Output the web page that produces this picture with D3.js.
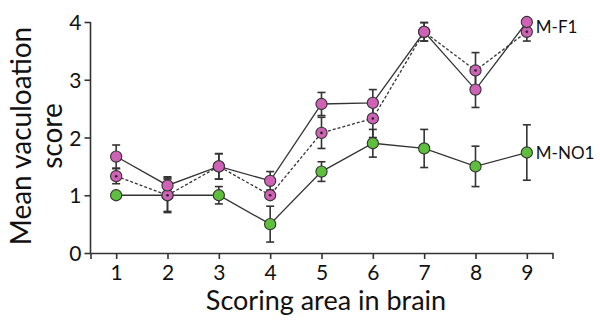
<!DOCTYPE html>
<html>
<head>
<meta charset="utf-8">
<script src="https://cdn.jsdelivr.net/npm/d3@7"></script>
<style>
  html, body { margin: 0; padding: 0; background: #fff; }
  svg text { font-family: Lato, "Open Sans", sans-serif; fill: #111; }
</style>
</head>
<body>
<svg id="chart" width="600" height="323"></svg>
<script>
// ── data ──────────────────────────────────────────────
const areas = [1, 2, 3, 4, 5, 6, 7, 8, 9];
const yTicks = [0, 1, 2, 3, 4];

// M-F1, solid line, plain markers
const mf1a = [1.67, 1.17, 1.5, 1.25, 2.58, 2.6, 3.83, 2.83, 4.0];
const mf1aErr = [0.2, 0.15, 0.22, 0.16, 0.2, 0.23, 0.16, 0.31, 0.0];
// M-F1, dashed line, dotted markers
const mf1b = [1.33, 1.0, 1.5, 1.0, 2.08, 2.33, 3.83, 3.16, 3.83];
const mf1bErr = [0.13, 0.3, 0.22, 0.0, 0.27, 0.33, 0.16, 0.31, 0.16];
// M-NO1
const mno1 = [1.0, 1.0, 1.0, 0.5, 1.41, 1.9, 1.81, 1.5, 1.74];
const mno1Err = [0.0, 0.28, 0.15, 0.31, 0.17, 0.24, 0.33, 0.35, 0.48];

const series = [
  { name: 'M-NO1', vals: mno1, err: mno1Err, fill: '#5ebf3c', dash: null, dot: false },
  { name: 'M-F1b', vals: mf1b, err: mf1bErr, fill: '#cf62b5', dash: '3,2', dot: true },
  { name: 'M-F1', vals: mf1a, err: mf1aErr, fill: '#cf62b5', dash: null, dot: false }
];

// ── chart ─────────────────────────────────────────────
const svg = d3.select('#chart');
const ink = '#333';

const x = d3.scaleLinear().domain([0.5, 9.5]).range([90.5, 552.5]);
const y = d3.scaleLinear().domain([0, 4]).range([253, 22]);

// axes
const gx = svg.append('g').attr('transform', 'translate(0,253)')
  .call(d3.axisBottom(x).tickValues(areas).tickSize(6).tickPadding(4).tickFormat(d3.format('d')));
const gy = svg.append('g').attr('transform', 'translate(90.5,0)')
  .call(d3.axisLeft(y).tickValues(yTicks).tickSize(6).tickPadding(3).tickFormat(d3.format('d')));
gy.select('.domain').attr('d', `M0,${y(4)}V${y(0)}`);
[gx, gy].forEach(g => {
  g.select('.domain').attr('stroke', ink).attr('stroke-width', 1.6);
  g.selectAll('.tick line').attr('stroke', ink).attr('stroke-width', 1.6);
  g.selectAll('.tick text').style('font-size', '21px').attr('fill', '#111');
});
gx.selectAll('.tick text').attr('dy', '0.8em');
gy.selectAll('.tick text').attr('dy', '0.36em');

// axis titles
svg.append('text').attr('x', 326).attr('y', 310).attr('text-anchor', 'middle')
  .style('font-size', '27px').text('Scoring area in brain');
const yt = svg.append('text').attr('transform', 'translate(0,136) rotate(-90)')
  .attr('text-anchor', 'middle').style('font-size', '28px');
yt.append('tspan').attr('x', 0).attr('y', 31).text('Mean vaculoation');
yt.append('tspan').attr('x', 0).attr('y', 62).text('score');

const line = d3.line().x((d, i) => x(areas[i])).y(d => y(d));

// lines
series.forEach(s => {
  svg.append('path').attr('d', line(s.vals))
    .attr('fill', 'none').attr('stroke', ink).attr('stroke-width', 1.3)
    .attr('stroke-dasharray', s.dash);
});

// error bars
series.forEach(s => {
  const g = svg.append('g').attr('stroke', ink).attr('stroke-width', 1.6);
  s.vals.forEach((v, i) => {
    if (!s.err[i]) return;
    const cx = x(areas[i]);
    const t = y(v + s.err[i]), b = y(v - s.err[i]);
    g.append('line').attr('x1', cx).attr('x2', cx).attr('y1', t).attr('y2', b);
    g.append('line').attr('x1', cx - 4).attr('x2', cx + 4).attr('y1', t).attr('y2', t);
    g.append('line').attr('x1', cx - 4).attr('x2', cx + 4).attr('y1', b).attr('y2', b);
  });
});

// markers
series.forEach(s => {
  const g = svg.append('g');
  g.selectAll('circle').data(s.vals).enter().append('circle')
    .attr('cx', (d, i) => x(areas[i])).attr('cy', d => y(d)).attr('r', 5.6)
    .attr('fill', s.fill).attr('stroke', ink).attr('stroke-width', 1.1);
  if (s.dot) {
    g.selectAll('.dot').data(s.vals).enter().append('circle')
      .attr('cx', (d, i) => x(areas[i])).attr('cy', d => y(d)).attr('r', 1.3)
      .attr('fill', '#222');
  }
});

// series labels, placed beside the last point
svg.append('text').attr('x', x(9) + 9).attr('y', (y(mf1a[8]) + y(mf1b[8])) / 2 + 6)
  .style('font-size', '17px').text('M-F1');
svg.append('text').attr('x', x(9) + 9).attr('y', y(mno1[8]) + 6)
  .style('font-size', '17px').text('M-NO1');
</script>
</body>
</html>
